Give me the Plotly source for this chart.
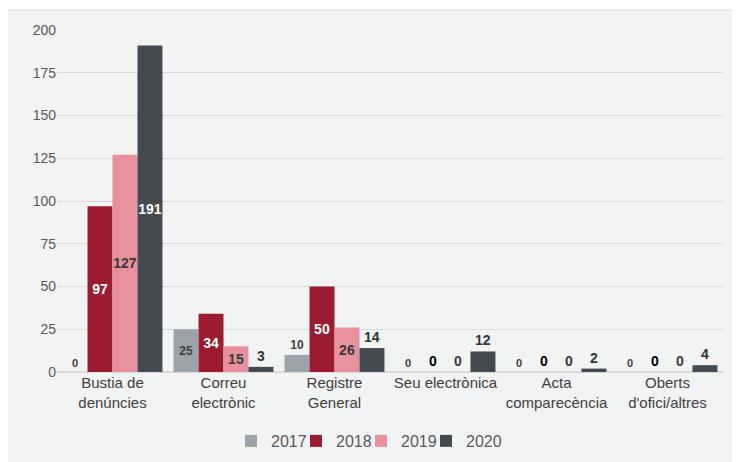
import plotly.graph_objects as go

categories = ["Bustia de<br>denúncies", "Correu<br>electrònic", "Registre<br>General",
              "Seu electrònica", "Acta<br>comparecència", "Oberts<br>d'ofici/altres"]
years = ["2017", "2018", "2019", "2020"]
v2017 = [0, 25, 10, 0, 0, 0]
v2018 = [97, 34, 50, 0, 0, 0]
v2019 = [127, 15, 26, 0, 0, 0]
v2020 = [191, 3, 14, 12, 2, 4]
values = [v2017, v2018, v2019, v2020]

colors = ["#9ca3aa", "#9b1c31", "#e8909c", "#434a51"]

# label styling per series
def styles(series_idx, vals):
    pos, col, size = [], [], []
    for v in vals:
        if series_idx == 0:
            pos.append("inside" if v >= 20 else "outside")
            col.append("#404040")
            size.append(12 if v > 0 else 11)
        elif series_idx == 1:
            if v >= 20:
                pos.append("inside"); col.append("#ffffff")
            else:
                pos.append("outside"); col.append("#000000")
            size.append(14)
        elif series_idx == 2:
            pos.append("inside" if v >= 10 else "outside")
            col.append("#3a3a3a")
            size.append(14)
        else:
            if v >= 100:
                pos.append("inside"); col.append("#ffffff")
            else:
                pos.append("outside"); col.append("#333333")
            size.append(14)
    return pos, col, size

fig = go.Figure()
for i, (y, vals) in enumerate(zip(years, values)):
    pos, col, size = styles(i, vals)
    fig.add_trace(go.Bar(
        name=y, x=categories, y=vals, marker=dict(color=colors[i], line=dict(width=0)),
        text=[str(v) for v in vals], textposition=pos, textangle=0,
        insidetextanchor="middle",
        textfont=dict(color=col, size=size, family="Liberation Sans", weight="bold"),
        constraintext="none", cliponaxis=False,
    ))

# spacer legend entry so the last legend label is not clipped
fig.add_trace(go.Scatter(x=[None], y=[None], name=" ", mode="markers",
                         marker=dict(color="rgba(0,0,0,0)"), hoverinfo="skip"))

# the page body adds an 8px offset; window pixel = figure pixel + 8
OFF = 8
W, H = 740 - OFF, 462 - OFF
l, t = 57 - OFF, 30 - OFF
r = W - (723 - OFF)
b = H - (372 - OFF)
pw, ph = W - l - r, H - t - b

def px_x(p):  # window px -> paper
    return (p - OFF - l) / pw

def px_y(p):
    return (H - b - (p - OFF)) / ph

fig.add_shape(type="rect", xref="paper", yref="paper",
              x0=px_x(7), x1=px_x(745), y0=px_y(470), y1=px_y(10),
              fillcolor="#f2f3f3", line=dict(color="#dcdcdc", width=1), layer="below")

fig.update_layout(
    width=W, height=H,
    margin=dict(l=l, r=r, t=t, b=b, autoexpand=False),
    paper_bgcolor="#ffffff", plot_bgcolor="rgba(0,0,0,0)",
    barmode="group", bargap=0.1, bargroupgap=0,
    font=dict(family="Liberation Sans", color="#404040"),
    showlegend=True,
    legend=dict(orientation="h", x=px_x(231), xanchor="left", y=px_y(441), yanchor="middle",
                font=dict(size=16, color="#595959"), bgcolor="rgba(0,0,0,0)",
                itemwidth=30, entrywidth=20, traceorder="normal"),
)
fig.update_xaxes(tickfont=dict(size=15, color="#404040"), showline=False, ticks="", automargin=False)
fig.update_yaxes(range=[0, 200], tickvals=[0, 25, 50, 75, 100, 125, 150, 175, 200],
                 tickfont=dict(size=14, color="#595959"), gridcolor="#d9d9d9",
                 zerolinecolor="#d9d9d9", showline=False, ticks="", ticklen=0, automargin=False)

fig.write_html("out.html")
